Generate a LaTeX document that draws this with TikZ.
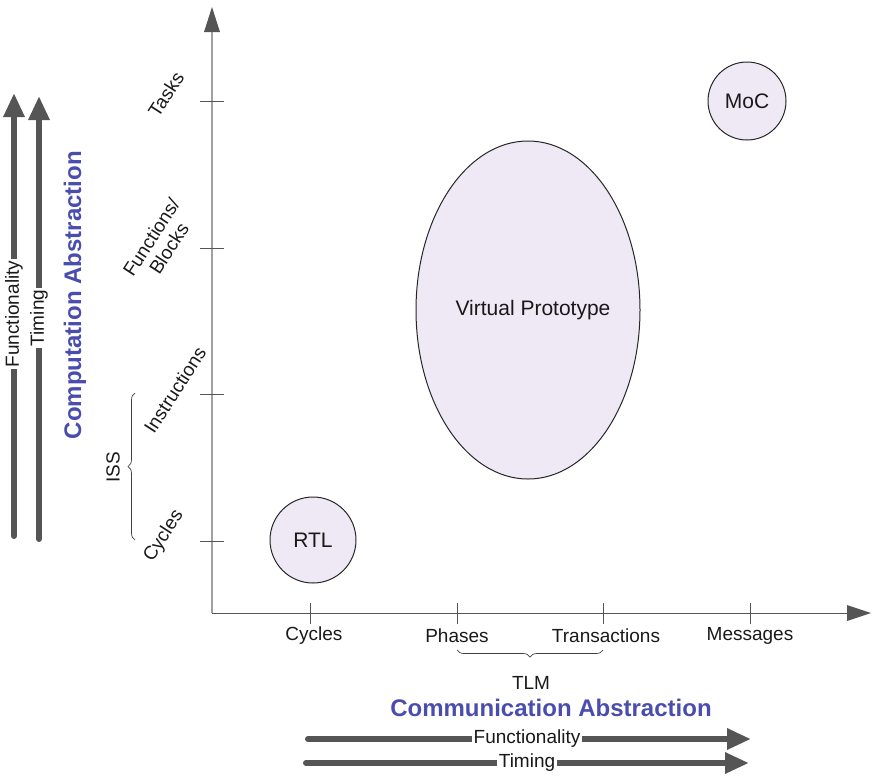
\documentclass[tikz,border=0pt]{standalone}
\usepackage{fontspec}
\setmainfont{Liberation Sans}
\usetikzlibrary{arrows.meta,decorations.pathreplacing}
\definecolor{axisgray}{HTML}{A0A0A0}
\definecolor{darkgray}{HTML}{555555}
\definecolor{lavender}{HTML}{EFE9F6}
\definecolor{titleblue}{HTML}{4A4DAE}
\tikzset{
  lbl/.style={font=\fontsize{19}{21}\selectfont, inner sep=0pt, text=black!90},
  ylbl/.style={lbl, rotate=57, align=center},
  tickline/.style={darkgray, line width=0.9pt},
  model/.style={draw=black!85, line width=1pt, fill=lavender,
    font=\fontsize{21}{24}\selectfont, text=black!90},
  heavy/.style={darkgray, line width=6pt,
    -{Triangle[length=24pt,width=20pt]}},
  onarrow/.style={lbl, fill=white, inner xsep=2pt, inner ysep=0pt},
  title/.style={font=\fontsize{24}{28}\selectfont\bfseries, text=titleblue, inner sep=0pt},
  bracestyle/.style={draw=black!75, line width=0.7pt,
    decorate, decoration={brace, amplitude=7pt}}
}
\begin{document}
\begin{tikzpicture}[x=1pt,y=-1pt]
\useasboundingbox (0,0) rectangle (872,777);

% axes
\coordinate (origin) at (212,613);
\coordinate (ytop) at (212,7);
\coordinate (xend) at (871,613);
\draw[axisgray, line width=2pt] (origin) -- (212,30);
\fill[darkgray] (ytop) -- (204,32) -- (220,32) -- cycle;
\draw[darkgray, line width=1pt] (origin) -- (850,613);
\fill[darkgray] (xend) -- (847,605) -- (847,621) -- cycle;

% ticks on the computation axis
\foreach \yy in {101,248,394,541}{
  \draw[tickline] (200,\yy) -- (224,\yy);
}
% ticks on the communication axis
\foreach \xx in {310,457,603,750}{
  \draw[tickline] (\xx,603) -- (\xx,624);
}

% computation levels
\node[ylbl] (tasks) at (166,94) {Tasks};
\node[ylbl] (funcs) at (160,243) {Functions/\\Blocks};
\node[ylbl] (instr) at (175,390) {Instructions};
\node[ylbl] (ycyc) at (164,536) {Cycles};

% communication levels
\node[lbl] (xcyc) at (314,636) {Cycles};
\node[lbl] (phases) at (457,636) {Phases};
\node[lbl] (trans) at (606,636) {Transactions};
\node[lbl] (msgs) at (750,636) {Messages};

% ISS brace
\coordinate (issA) at (135,540);
\coordinate (issB) at (135,393);
\draw[bracestyle] (issA) -- (issB);
\node[lbl, rotate=90] (iss) at (113,467) {ISS};

% TLM brace
\coordinate (tlmA) at (603,650);
\coordinate (tlmB) at (457,650);
\draw[bracestyle] (tlmA) -- (tlmB);
\node[lbl] (tlm) at (531,683) {TLM};

% axis titles
\node[title] (commtitle) at (551,708) {Communication Abstraction};
\node[title, rotate=90] (comptitle) at (75,295) {Computation Abstraction};

% model regions
\node[model, circle, minimum size=78pt, inner sep=0pt] (moc) at (747,101) {MoC};
\node[model, circle, minimum size=86pt, inner sep=0pt] (rtl) at (313,540) {RTL};
\draw[model] (528,310) ellipse [x radius=112, y radius=169];
\node[lbl, font=\fontsize{21}{24}\selectfont] (vp) at (533,310) {Virtual Prototype};

% refinement arrows along the communication axis
\coordinate (bfA) at (308,739);
\coordinate (bfB) at (751,739);
\coordinate (btA) at (306,763);
\coordinate (btB) at (749,763);
\draw[heavy, line cap=round] (bfA) -- (bfB);
\draw[heavy, line cap=round] (btA) -- (btB);
\node[onarrow] (bfl) at (527,739) {Functionality};
\node[onarrow] (btl) at (527,763) {Timing};

% refinement arrows along the computation axis
\coordinate (lfA) at (14,536);
\coordinate (lfB) at (14,93);
\coordinate (ltA) at (39,539);
\coordinate (ltB) at (39,96);
\draw[heavy, line cap=round] (lfA) -- (lfB);
\draw[heavy, line cap=round] (ltA) -- (ltB);
\node[onarrow, rotate=90] (lfl) at (14,314) {Functionality};
\node[onarrow, rotate=90] (ltl) at (39,318) {Timing};
\end{tikzpicture}
\end{document}
